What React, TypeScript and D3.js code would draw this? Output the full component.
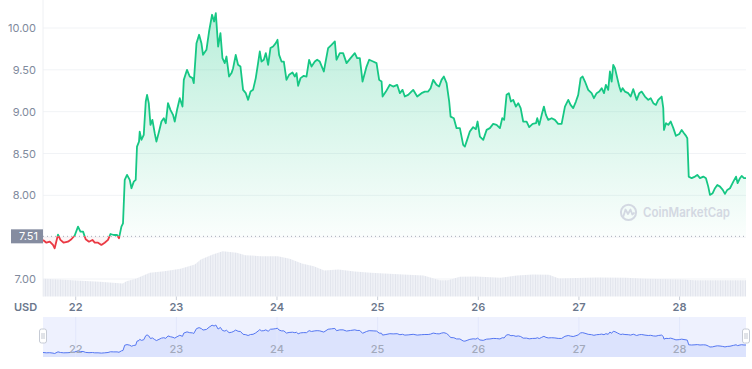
import React from "react";
import * as d3 from "d3";

// [day of month, price in USD]
const pricePoints: [number, number][] = [
  [21.675, 7.467], [21.709, 7.434], [21.742, 7.446], [21.774, 7.407], [21.791, 7.367], [21.824, 7.53],
  [21.848, 7.467], [21.881, 7.434], [21.923, 7.446], [21.957, 7.475], [21.99, 7.52], [22.023, 7.626],
  [22.047, 7.566], [22.073, 7.566], [22.099, 7.475], [22.132, 7.446], [22.166, 7.467], [22.189, 7.434],
  [22.222, 7.434], [22.255, 7.407], [22.288, 7.434], [22.321, 7.467], [22.345, 7.538], [22.378, 7.526],
  [22.411, 7.526], [22.43, 7.487], [22.454, 7.626], [22.47, 7.666], [22.487, 8.184], [22.51, 8.244],
  [22.537, 8.184], [22.554, 8.085], [22.577, 8.164], [22.596, 8.184], [22.609, 8.583], [22.629, 8.642],
  [22.636, 8.762], [22.653, 8.663], [22.676, 8.722], [22.696, 9.121], [22.709, 9.201], [22.726, 9.102],
  [22.743, 8.842], [22.762, 8.902], [22.785, 8.743], [22.802, 8.642], [22.828, 8.762], [22.852, 8.882],
  [22.875, 8.922], [22.895, 8.862], [22.917, 9.102], [22.941, 9.022], [22.967, 8.962], [22.984, 8.882],
  [23.007, 9.022], [23.034, 9.161], [23.061, 9.061], [23.074, 9.38], [23.106, 9.5], [23.133, 9.42],
  [23.16, 9.401], [23.173, 9.341], [23.2, 9.819], [23.226, 9.919], [23.249, 9.819], [23.265, 9.679],
  [23.299, 9.739], [23.325, 9.958], [23.355, 10.158], [23.375, 10.078], [23.392, 10.178], [23.415, 9.779],
  [23.438, 9.939], [23.458, 9.64], [23.481, 9.58], [23.498, 9.659], [23.524, 9.42], [23.548, 9.461],
  [23.564, 9.52], [23.59, 9.679], [23.613, 9.56], [23.637, 9.539], [23.663, 9.261], [23.69, 9.221],
  [23.713, 9.141], [23.737, 9.24], [23.762, 9.261], [23.789, 9.401], [23.812, 9.58], [23.829, 9.719],
  [23.846, 9.599], [23.869, 9.62], [23.889, 9.7], [23.912, 9.56], [23.935, 9.76], [23.961, 9.779],
  [23.988, 9.819], [24.005, 9.859], [24.021, 9.679], [24.045, 9.599], [24.068, 9.599], [24.094, 9.38],
  [24.12, 9.44], [24.154, 9.468], [24.177, 9.42], [24.194, 9.461], [24.21, 9.309], [24.234, 9.401],
  [24.266, 9.428], [24.293, 9.42], [24.319, 9.62], [24.343, 9.539], [24.376, 9.599], [24.399, 9.62],
  [24.425, 9.599], [24.465, 9.48], [24.508, 9.76], [24.542, 9.799], [24.575, 9.839], [24.591, 9.62],
  [24.624, 9.7], [24.657, 9.7], [24.691, 9.58], [24.731, 9.64], [24.773, 9.7], [24.796, 9.64],
  [24.823, 9.64], [24.85, 9.36], [24.89, 9.539], [24.916, 9.62], [24.955, 9.599], [24.989, 9.58],
  [25.015, 9.38], [25.039, 9.36], [25.049, 9.181], [25.082, 9.24], [25.121, 9.321], [25.154, 9.3],
  [25.194, 9.321], [25.221, 9.221], [25.247, 9.261], [25.27, 9.181], [25.303, 9.201], [25.353, 9.261],
  [25.393, 9.181], [25.436, 9.221], [25.469, 9.24], [25.502, 9.24], [25.526, 9.281], [25.552, 9.38],
  [25.585, 9.321], [25.611, 9.3], [25.635, 9.38], [25.658, 9.42], [25.685, 9.341], [25.711, 9.121],
  [25.725, 8.941], [25.757, 8.922], [25.784, 8.803], [25.817, 8.803], [25.85, 8.603], [25.867, 8.583],
  [25.889, 8.663], [25.916, 8.762], [25.949, 8.815], [25.976, 8.791], [25.993, 8.882], [26.016, 8.702],
  [26.049, 8.663], [26.083, 8.782], [26.115, 8.803], [26.148, 8.854], [26.182, 8.842], [26.215, 8.803],
  [26.238, 8.922], [26.257, 8.902], [26.281, 9.201], [26.304, 9.221], [26.324, 9.121], [26.347, 9.141],
  [26.374, 9.061], [26.397, 9.102], [26.421, 9.042], [26.446, 8.882], [26.48, 8.882], [26.506, 8.815],
  [26.54, 8.854], [26.573, 8.862], [26.586, 8.922], [26.606, 8.842], [26.63, 8.962], [26.652, 9.061],
  [26.672, 8.962], [26.695, 8.902], [26.729, 8.922], [26.761, 8.902], [26.794, 8.854], [26.828, 8.854],
  [26.861, 9.061], [26.894, 9.141], [26.917, 9.081], [26.943, 9.042], [26.97, 9.121], [26.993, 9.201],
  [27.017, 9.401], [27.037, 9.42], [27.06, 9.36], [27.092, 9.261], [27.126, 9.221], [27.149, 9.161],
  [27.176, 9.221], [27.202, 9.24], [27.226, 9.281], [27.249, 9.221], [27.268, 9.321], [27.291, 9.261],
  [27.308, 9.48], [27.325, 9.36], [27.341, 9.56], [27.358, 9.52], [27.381, 9.401], [27.401, 9.3],
  [27.417, 9.24], [27.434, 9.281], [27.457, 9.24], [27.49, 9.221], [27.514, 9.181], [27.54, 9.269],
  [27.574, 9.141], [27.6, 9.221], [27.623, 9.24], [27.656, 9.181], [27.689, 9.141], [27.713, 9.161],
  [27.739, 9.102], [27.765, 9.081], [27.788, 9.141], [27.822, 9.181], [27.838, 9.042], [27.845, 8.782],
  [27.865, 8.862], [27.888, 8.842], [27.912, 8.882], [27.938, 8.803], [27.964, 8.711], [27.997, 8.734],
  [28.021, 8.782], [28.044, 8.743], [28.064, 8.711], [28.077, 8.683], [28.091, 8.224], [28.12, 8.205],
  [28.153, 8.224], [28.176, 8.244], [28.203, 8.205], [28.236, 8.224], [28.262, 8.205], [28.285, 8.104],
  [28.302, 8.005], [28.329, 8.025], [28.352, 8.085], [28.375, 8.124], [28.402, 8.104], [28.429, 8.065],
  [28.451, 8.017], [28.474, 8.065], [28.501, 8.085], [28.534, 8.164], [28.561, 8.224], [28.577, 8.145],
  [28.6, 8.205], [28.617, 8.232], [28.64, 8.205], [28.66, 8.205],
];

// [day of month, trading volume in $M]
const volumePoints: [number, number][] = [
  [21.675, 17.7], [21.841, 17], [22.007, 16], [22.239, 14.7], [22.467, 13], [22.504, 15.3],
  [22.596, 17.7], [22.736, 23.7], [22.88, 25.3], [23.041, 27.7], [23.183, 32], [23.243, 37],
  [23.362, 42], [23.461, 45.3], [23.6, 43.7], [23.685, 41.3], [23.846, 40.3], [24.008, 40.3],
  [24.127, 37.7], [24.247, 33], [24.366, 30.3], [24.47, 26], [24.61, 27], [24.773, 25],
  [24.932, 23.7], [25.254, 22], [25.455, 21], [25.618, 16.3], [25.698, 16.3], [25.817, 19.7],
  [25.976, 20], [26.221, 18.7], [26.382, 21], [26.543, 22], [26.702, 21.7], [26.801, 18],
  [27.066, 18.7], [27.186, 19], [27.467, 18.7], [27.666, 17.7], [28.032, 17], [28.153, 16.3],
  [28.66, 16.3],
];

const dayTicks = [22, 23, 24, 25, 26, 27, 28];
const priceTicks = [7.0, 7.5, 8.0, 8.5, 9.0, 9.5, 10.0];
const priceTickLabels = ["7.00", "", "8.00", "8.50", "9.00", "9.50", "10.00"];
const openPrice = 7.51;
const openPriceLabel = "7.51";
const currencyLabel = "USD";
const watermark = "CoinMarketCap";

const W = 752;
const H = 369;
const GREEN = "#16c784";
const RED = "#ea3943";
const FONT = "Inter, 'Noto Sans', sans-serif";

export default function App() {
  const left = 43;
  const right = 746;
  const volBottom = 296.5;
  const navTop = 317;
  const navBottom = 357;

  const x = d3
    .scaleLinear()
    .domain([pricePoints[0][0], pricePoints[pricePoints.length - 1][0]])
    .range([left, right]);
  const y = d3.scaleLinear().domain([7, 10]).range([279, 28]);
  const vy = d3.scaleLinear().domain([0, 100]).range([volBottom, volBottom - 100]);
  const pExt = d3.extent(pricePoints, (d) => d[1]) as [number, number];
  const ny = d3.scaleLinear().domain(pExt).range([353.5, 325]);

  const base = y(openPrice);
  const line = d3.line<[number, number]>().x((d) => x(d[0])).y((d) => y(d[1]));
  const area = d3
    .area<[number, number]>()
    .x((d) => x(d[0]))
    .y0(base)
    .y1((d) => y(d[1]));
  const volArea = d3
    .area<[number, number]>()
    .x((d) => x(d[0]))
    .y0(volBottom)
    .y1((d) => vy(d[1]));
  const navLine = d3.line<[number, number]>().x((d) => x(d[0])).y((d) => ny(d[1]));
  const navArea = d3
    .area<[number, number]>()
    .x((d) => x(d[0]))
    .y0(navBottom)
    .y1((d) => ny(d[1]));

  const topY = y(pExt[1]);

  return (
    <svg
      width={W}
      height={H}
      viewBox={`0 0 ${W} ${H}`}
      style={{ position: "absolute", left: 0, top: 0, display: "block", background: "#fff" }}
      fontFamily={FONT}
    >
      <defs>
        <linearGradient id="gUp" gradientUnits="userSpaceOnUse" x1="0" x2="0" y1={topY} y2={base}>
          <stop offset="0" stopColor={GREEN} stopOpacity={0.3} />
          <stop offset="1" stopColor={GREEN} stopOpacity={0.02} />
        </linearGradient>
        <linearGradient id="gDown" gradientUnits="userSpaceOnUse" x1="0" x2="0" y1={base} y2={base + 14}>
          <stop offset="0" stopColor={RED} stopOpacity={0.02} />
          <stop offset="1" stopColor={RED} stopOpacity={0.15} />
        </linearGradient>
        <clipPath id="cUp">
          <rect x={0} y={0} width={W} height={base} />
        </clipPath>
        <clipPath id="cDown">
          <rect x={0} y={base} width={W} height={H - base} />
        </clipPath>
        <pattern id="vbars" width="2.5" height="10" patternUnits="userSpaceOnUse">
          <rect width="2.5" height="10" fill="#eff1f6" />
          <rect width="0.7" height="10" fill="#dfe2eb" />
        </pattern>
      </defs>

      {/* grid */}
      {priceTicks.map((t) => (
        <line key={t} x1={left} x2={right} y1={y(t)} y2={y(t)} stroke="#f1f3f6" strokeWidth={1} />
      ))}
      <line x1={left} x2={left} y1={0} y2={volBottom} stroke="#eef0f3" strokeWidth={1} />

      {/* volume */}
      <path d={volArea(volumePoints) || ""} fill="url(#vbars)" />

      {/* price fill */}
      <path d={area(pricePoints) || ""} fill="url(#gUp)" clipPath="url(#cUp)" />
      <path d={area(pricePoints) || ""} fill="url(#gDown)" clipPath="url(#cDown)" />

      {/* open price dotted line */}
      <line x1={left} x2={right} y1={base} y2={base} stroke="#a6acb9" strokeWidth={1} strokeDasharray="1 3" />

      {/* price line */}
      <path d={line(pricePoints) || ""} fill="none" stroke={GREEN} strokeWidth={1.8} strokeLinejoin="round" clipPath="url(#cUp)" />
      <path d={line(pricePoints) || ""} fill="none" stroke={RED} strokeWidth={1.8} strokeLinejoin="round" clipPath="url(#cDown)" />

      {/* watermark */}
      <g>
        <circle cx={628.5} cy={212.3} r={7.6} fill="none" stroke="#d3d8e2" strokeWidth={2} />
        <path
          d="M623.5,216 L625.5,209.5 L628,214 L630.5,209.5 L632.3,214.5 L634,213"
          fill="none"
          stroke="#d3d8e2"
          strokeWidth={1.8}
          strokeLinejoin="round"
          strokeLinecap="round"
        />
        <text x={643} y={217} fontSize={13} fontWeight={600} fill="#d3d8e2" textLength={87} lengthAdjust="spacingAndGlyphs">
          {watermark}
        </text>
      </g>

      {/* y axis labels */}
      {priceTicks.map((t, i) =>
        priceTickLabels[i] ? (
          <text key={t} x={36} y={y(t) + 4} fontSize={11} fill="#808a9d" textAnchor="end">
            {priceTickLabels[i]}
          </text>
        ) : null
      )}

      {/* open price label */}
      <rect x={11} y={base - 7} width={32} height={14} fill="#858ca0" />
      <text x={19} y={base + 4} fontSize={11} fill="#ffffff">
        {openPriceLabel}
      </text>

      {/* x axis */}
      {dayTicks.map((d) => (
        <line key={"tk" + d} x1={x(d)} x2={x(d)} y1={volBottom} y2={volBottom + 3.5} stroke="#c9ced8" strokeWidth={1} />
      ))}
      {dayTicks.map((d) => (
        <text key={"tl" + d} x={x(d)} y={311} fontSize={11} fontWeight={600} fill="#6b778c" textAnchor="middle">
          {d}
        </text>
      ))}
      <text x={14} y={311} fontSize={11} fontWeight={600} fill="#6b778c">
        {currencyLabel}
      </text>

      {/* navigator */}
      <rect x={left} y={navTop} width={right - left} height={navBottom - navTop} fill="#eef1fe" />
      <path d={navArea(pricePoints) || ""} fill="#dce3fd" />
      {dayTicks.map((d) => (
        <line key={"ng" + d} x1={x(d)} x2={x(d)} y1={navTop} y2={navBottom} stroke="#e2e7fb" strokeWidth={1} />
      ))}
      <path d={navLine(pricePoints) || ""} fill="none" stroke="#5577f2" strokeWidth={1} />
      {dayTicks.map((d) => (
        <text key={"nl" + d} x={x(d)} y={353} fontSize={11} fontWeight={500} fill="#a2a9bb" textAnchor="middle">
          {d}
        </text>
      ))}
      {[left, right].map((hx, i) => (
        <g key={"h" + i}>
          <rect x={hx - 3.5} y={329} width={7} height={14} rx={2} fill="#ffffff" stroke="#c6cbd5" strokeWidth={1} />
          <line x1={hx - 1} x2={hx - 1} y1={333} y2={339} stroke="#b3b9c5" strokeWidth={0.8} />
          <line x1={hx + 1} x2={hx + 1} y1={333} y2={339} stroke="#b3b9c5" strokeWidth={0.8} />
        </g>
      ))}
    </svg>
  );
}
